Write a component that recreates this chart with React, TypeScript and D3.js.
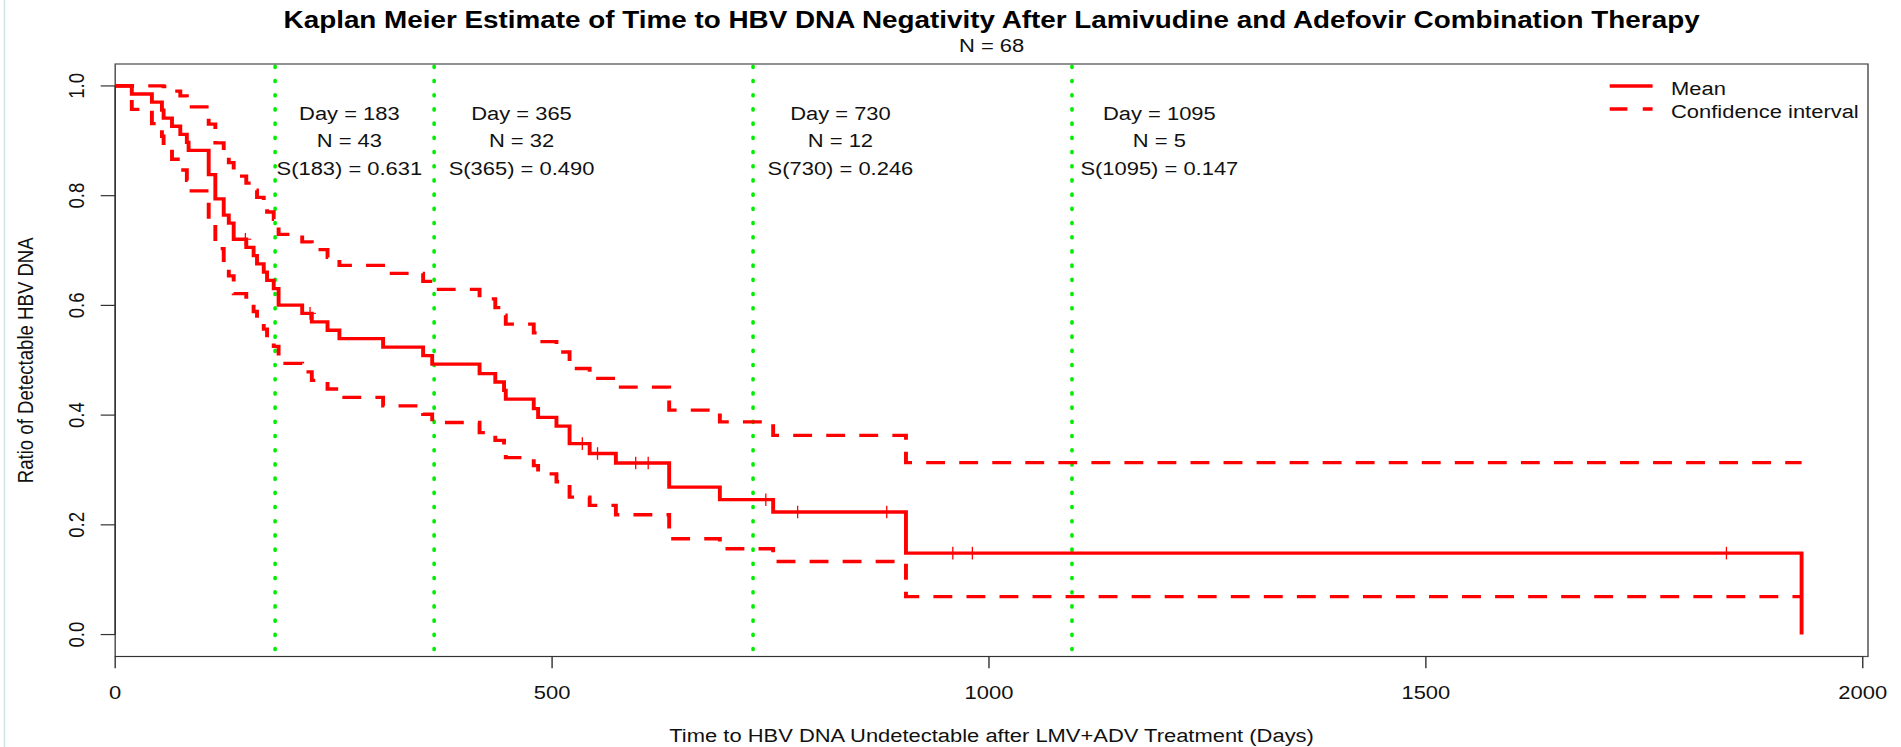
import React from 'react';
import * as d3 from 'd3';

// ---- data ----
const stepDays = [0, 19, 42, 53.5, 55.4, 65, 74.5, 82, 84, 107, 114.6, 124.2, 130, 135.6, 150, 158.4, 162.3, 170, 173.8, 181.4, 187, 214, 225, 243, 256.6, 306.6, 352.4, 362.8, 417, 435, 445, 447, 479, 484, 505, 520, 543, 573, 634, 692, 753, 905, 1930];
const meanSurv = [1, 0.9853, 0.9706, 0.9559, 0.9412, 0.9265, 0.9118, 0.8971, 0.8824, 0.8382, 0.7941, 0.7647, 0.75, 0.7206, 0.7056, 0.6906, 0.6755, 0.6605, 0.6455, 0.6305, 0.6005, 0.5855, 0.5701, 0.5547, 0.5393, 0.5239, 0.5085, 0.4931, 0.4757, 0.4604, 0.445, 0.429, 0.412, 0.396, 0.38, 0.348, 0.33, 0.3127, 0.2688, 0.2458, 0.2234, 0.1484, 0];
const upperCI = [1, 1, 1, 1, 0.9988, 0.9907, 0.9818, 0.9723, 0.962, 0.9305, 0.8963, 0.8725, 0.8603, 0.8355, 0.8228, 0.8099, 0.7968, 0.7836, 0.7702, 0.7568, 0.7296, 0.7158, 0.7016, 0.6874, 0.673, 0.6585, 0.6439, 0.6291, 0.612, 0.596, 0.582, 0.566, 0.55, 0.534, 0.515, 0.485, 0.467, 0.451, 0.409, 0.3875, 0.3631, 0.3133, 0.3133];
const lowerCI = [1, 0.9572, 0.9312, 0.9083, 0.8869, 0.8664, 0.8468, 0.8277, 0.8087, 0.7551, 0.7036, 0.6703, 0.6538, 0.6215, 0.6051, 0.5889, 0.5727, 0.5568, 0.541, 0.5253, 0.4942, 0.4789, 0.4632, 0.4476, 0.4322, 0.4169, 0.4016, 0.3865, 0.368, 0.354, 0.339, 0.3224, 0.308, 0.293, 0.2785, 0.2506, 0.2354, 0.2184, 0.1746, 0.1564, 0.1332, 0.0693, 0.0693];
const censorDays = [149, 223, 534.6, 552, 595.7, 610, 744.6, 781, 883, 958.6, 981, 1844];
const censorSurv = [0.7206, 0.5855, 0.348, 0.33, 0.3127, 0.3127, 0.2458, 0.2234, 0.2234, 0.1484, 0.1484, 0.1484];

const markDays = [183, 365, 730, 1095];
const markN = [43, 32, 12, 5];
const markS = ['0.631', '0.490', '0.246', '0.147'];
const markTextDays = [268, 465, 830, 1195];

const xTicks = [0, 500, 1000, 1500, 2000];
const yTicks = [0, 0.2, 0.4, 0.6, 0.8, 1.0];
const legendLabels = ['Mean', 'Confidence interval'];

const titleText = 'Kaplan Meier Estimate of Time to HBV DNA Negativity After Lamivudine and Adefovir Combination Therapy';
const subtitleText = 'N = 68';
const xTitle = 'Time to HBV DNA Undetectable after LMV+ADV Treatment (Days)';
const yTitle = 'Ratio of Detectable HBV DNA';

// ---- layout ----
const W = 1901;
const H = 747;
const SX = 1.18; // horizontal stretch of the reference
const FONT = '"Liberation Sans", Arial, Helvetica, sans-serif';
const FS = 18.6;
const RED = '#ff0000';
const GREEN = '#00ee00';

export default function App() {
  const left = 115.2 / SX;
  const right = 1868 / SX;
  const top = 64;
  const bottom = 656.5;
  const x = d3.scaleLinear().domain([0, 2006]).range([left, right]);
  const y = d3.scaleLinear().domain([-0.04, 1.04]).range([bottom, top]);

  const mkLine = (vals: number[]) =>
    d3
      .line<number>()
      .x((_, i) => x(stepDays[i]))
      .y((d) => y(d))
      .curve(d3.curveStepAfter)(vals) || '';

  const cx = (left + right) / 2;
  const fmtY = d3.format('.1f');
  const annLines = [0.95, 0.9, 0.85];

  const legX1 = 1609.7 / SX;
  const legX2 = 1652.6 / SX;
  const legTextX = 1671 / SX;
  const legYs = [86, 109];

  return (
    <svg
      width={W}
      height={H}
      style={{ position: 'absolute', left: 0, top: 0, display: 'block', background: '#fff' }}
      fontFamily={FONT}
    >
      <rect x={0} y={0} width={W} height={H} fill="#fff" />
      <line x1={4.5} x2={4.5} y1={0} y2={H} stroke="#cfe2e2" strokeWidth={1.5} />
      <g transform={`scale(${SX},1)`}>
        {/* title */}
        <text x={cx} y={27.8} textAnchor="middle" fontSize={23.6} fontWeight="bold" fill="#000">
          {titleText}
        </text>
        <text x={cx} y={51.7} textAnchor="middle" fontSize={FS} fill="#111">
          {subtitleText}
        </text>

        {/* green reference lines */}
        {markDays.map((d) => (
          <line
            key={'g' + d}
            x1={x(d)}
            x2={x(d)}
            y1={top + 2}
            y2={bottom}
            stroke={GREEN}
            strokeWidth={3.05}
            strokeDasharray="1.6,12.6"
            strokeLinecap="round"
          />
        ))}

        {/* annotations */}
        {markDays.map((d, i) => (
          <g key={'a' + d} fontSize={FS} fill="#111" textAnchor="middle">
            <text x={x(markTextDays[i])} y={y(annLines[0]) + 6.6}>{`Day = ${d}`}</text>
            <text x={x(markTextDays[i])} y={y(annLines[1]) + 6.6}>{`N = ${markN[i]}`}</text>
            <text x={x(markTextDays[i])} y={y(annLines[2]) + 6.6}>{`S(${d}) = ${markS[i]}`}</text>
          </g>
        ))}

        {/* confidence intervals */}
        <path d={mkLine(upperCI)} fill="none" stroke={RED} strokeWidth={3.3} strokeDasharray="16,12" />
        <path d={mkLine(lowerCI)} fill="none" stroke={RED} strokeWidth={3.3} strokeDasharray="16,12" />
        {/* mean */}
        <path d={mkLine(meanSurv)} fill="none" stroke={RED} strokeWidth={3.3} />

        {/* censor marks */}
        {censorDays.map((d, i) => (
          <g key={'c' + i} stroke={RED} strokeWidth={1.1}>
            <line x1={x(d)} x2={x(d)} y1={y(censorSurv[i]) - 6.3} y2={y(censorSurv[i]) + 6.3} />
            <line x1={x(d) - 5} x2={x(d) + 5} y1={y(censorSurv[i])} y2={y(censorSurv[i])} />
          </g>
        ))}

        {/* box */}
        <rect x={left} y={top} width={right - left} height={bottom - top} fill="none" stroke="#4a4a4a" strokeWidth={1.2} />

        {/* x axis */}
        <line x1={x(0)} x2={x(2000)} y1={bottom} y2={bottom} stroke="#333" strokeWidth={1.2} />
        {xTicks.map((t) => (
          <g key={'xt' + t}>
            <line x1={x(t)} x2={x(t)} y1={bottom} y2={bottom + 11.7} stroke="#333" strokeWidth={1.2} />
            <text x={x(t)} y={699} textAnchor="middle" fontSize={FS} fill="#111">
              {t}
            </text>
          </g>
        ))}
        <text x={cx} y={741.7} textAnchor="middle" fontSize={FS} fill="#111">
          {xTitle}
        </text>

        {/* y axis */}
        <line x1={left} x2={left} y1={y(0)} y2={y(1)} stroke="#333" strokeWidth={1.2} />
        {yTicks.map((t) => (
          <g key={'yt' + t}>
            <line x1={left - 12.3} x2={left} y1={y(t)} y2={y(t)} stroke="#333" strokeWidth={1.2} />
            <text
              transform={`translate(${70.8},${y(t)}) rotate(-90)`}
              textAnchor="middle"
              fontSize={FS}
              fill="#111"
            >
              {fmtY(t)}
            </text>
          </g>
        ))}
        <text
          transform={`translate(${28},${(top + bottom) / 2}) rotate(-90)`}
          textAnchor="middle"
          fontSize={FS}
          fill="#111"
        >
          {yTitle}
        </text>

        {/* legend */}
        <line x1={legX1} x2={legX2} y1={legYs[0]} y2={legYs[0]} stroke={RED} strokeWidth={3.3} />
        <line x1={legX1} x2={legX2} y1={legYs[1]} y2={legYs[1]} stroke={RED} strokeWidth={3.3} strokeDasharray="15,13" />
        {legendLabels.map((l, i) => (
          <text key={l} x={legTextX} y={legYs[i] + 9} fontSize={FS} fill="#111">
            {l}
          </text>
        ))}
      </g>
    </svg>
  );
}
